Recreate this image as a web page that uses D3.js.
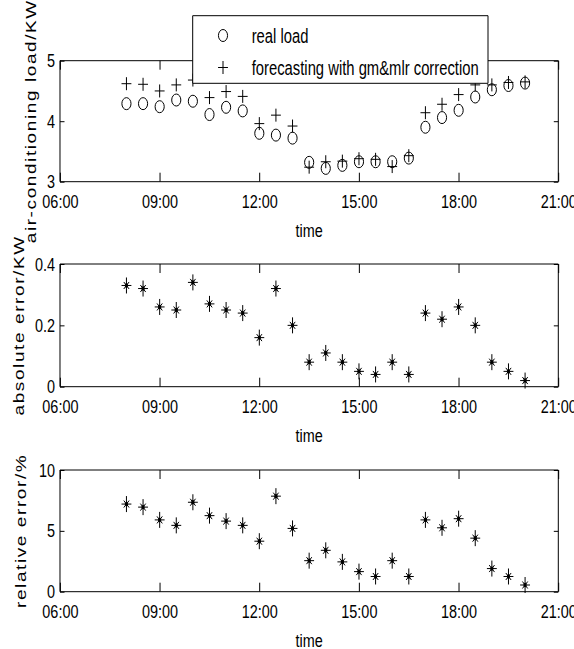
<!DOCTYPE html>
<html>
<head>
<meta charset="utf-8">
<script src="https://cdn.jsdelivr.net/npm/d3@7"></script>
<style>
body { margin: 0; background: #fff; }
svg { display: block; }
</style>
</head>
<body>
<div id="chart"></div>
<script>
var times = ["08:00", "08:30", "09:00", "09:30", "10:00", "10:30", "11:00", "11:30", "12:00",
	"12:30", "13:00", "13:30", "14:00", "14:30", "15:00", "15:30", "16:00", "16:30",
	"17:00", "17:30", "18:00", "18:30", "19:00", "19:30", "20:00"];
var realLoad = [4.29, 4.29, 4.24, 4.35, 4.33, 4.11, 4.23, 4.17, 3.80, 3.77, 3.72, 3.32, 3.22,
	3.27, 3.33, 3.33, 3.33, 3.39, 3.90, 4.06, 4.18, 4.40, 4.52, 4.59, 4.63];
var forecastLoad = [4.62, 4.61, 4.50, 4.60, 4.68, 4.39, 4.49, 4.41, 3.96, 4.10, 3.92, 3.24, 3.33,
	3.34, 3.38, 3.37, 3.25, 3.43, 4.14, 4.28, 4.44, 4.60, 4.60, 4.64, 4.65];
var absError = [0.33, 0.32, 0.26, 0.25, 0.34, 0.27, 0.25, 0.24, 0.16, 0.32, 0.20, 0.08, 0.11,
	0.08, 0.05, 0.04, 0.08, 0.04, 0.24, 0.22, 0.26, 0.20, 0.08, 0.05, 0.02];
var relError = [7.2, 6.95, 5.9, 5.45, 7.35, 6.25, 5.8, 5.45, 4.15, 7.85, 5.2, 2.55, 3.4,
	2.45, 1.65, 1.25, 2.55, 1.25, 5.9, 5.25, 6.0, 4.4, 1.9, 1.25, 0.55];
var xTicks = ["06:00", "09:00", "12:00", "15:00", "18:00", "21:00"];
var legendNames = ["real load", "forecasting with gm&mlr correction"];

var width = 574, height = 649;
// the original figure is squeezed sideways, so draw wide and scale x down
var sx = 0.76;
var left = 60, right = 558.3;
var font = "'Liberation Sans', Arial, sans-serif";

function hours(s) {
	var p = s.split(":");
	return +p[0] + (+p[1]) / 60;
}
var xTickValues = xTicks.map(hours);

var svg = d3.select("#chart").append("svg")
	.attr("width", width)
	.attr("height", height)
	.style("font-family", font);

var g = svg.append("g").attr("transform", `scale(${sx},1)`);

var x = d3.scaleLinear().domain([6, 21]).range([left / sx, right / sx]);

function styleAxis(a) {
	a.attr("font-size", null).attr("font-family", null);
	a.select(".domain").remove();
	a.selectAll("line").attr("stroke", "#000").attr("vector-effect", "non-scaling-stroke");
	a.selectAll("text").attr("font-size", 19).attr("fill", "#000");
}

function panel(top, bottom, yDomain, yTicks, yFormat, label, labelX) {
	var y = d3.scaleLinear().domain(yDomain).range([bottom, top]);
	var p = g.append("g");

	p.append("g")
		.attr("transform", `translate(0,${bottom})`)
		.call(d3.axisBottom(x).tickValues(xTickValues)
			.tickFormat(d => xTicks[xTickValues.indexOf(d)])
			.tickSizeInner(-9).tickSizeOuter(0).tickPadding(12.5))
		.call(styleAxis);

	p.append("g")
		.attr("transform", `translate(0,${top})`)
		.call(d3.axisTop(x).tickValues(xTickValues).tickFormat("")
			.tickSizeInner(-9).tickSizeOuter(0))
		.call(styleAxis);

	p.append("g")
		.attr("transform", `translate(${x(6)},0)`)
		.call(d3.axisLeft(y).tickValues(yTicks).tickFormat(yFormat)
			.tickSizeInner(-4.5 / sx).tickSizeOuter(0).tickPadding(5 / sx))
		.call(styleAxis);

	p.append("g")
		.attr("transform", `translate(${x(21)},0)`)
		.call(d3.axisRight(y).tickValues(yTicks).tickFormat("")
			.tickSizeInner(-4.5 / sx).tickSizeOuter(0))
		.call(styleAxis);

	p.append("rect")
		.attr("x", x(6))
		.attr("y", top)
		.attr("width", x(21) - x(6))
		.attr("height", bottom - top)
		.attr("fill", "none")
		.attr("stroke", "#000")
		.attr("vector-effect", "non-scaling-stroke");

	p.append("text")
		.attr("x", (x(6) + x(21)) / 2)
		.attr("y", bottom + 55)
		.attr("text-anchor", "middle")
		.attr("font-size", 19)
		.text("time");

	p.append("text")
		.attr("transform", `translate(${labelX / sx},${(top + bottom) / 2}) rotate(-90)`)
		.attr("text-anchor", "middle")
		.attr("font-size", 19)
		.attr("letter-spacing", 1.6)
		.text(label);

	return y;
}

var plusPath = "M-6.5,0H6.5M0,-6.5V6.5";
// matlab '*': long plus with a small x through the middle
var starPath = "M-6.5,0H6.5M0,-8V8M-3.5,-3.5L3.5,3.5M-3.5,3.5L3.5,-3.5";

function marks(y, values, type) {
	var sel = g.append("g").selectAll("g")
		.data(values)
		.join("g")
		.attr("transform", (d, i) => `translate(${x(hours(times[i]))},${y(d)})`);
	drawMarker(sel, type);
}

function drawMarker(sel, type) {
	if (type === "circle") {
		sel.append("circle").attr("r", 6)
			.attr("fill", "none").attr("stroke", "#000")
			.attr("vector-effect", "non-scaling-stroke");
	} else if (type === "plus") {
		sel.append("path").attr("d", plusPath)
			.attr("fill", "none").attr("stroke", "#000")
			.attr("vector-effect", "non-scaling-stroke");
	} else {
		sel.append("path").attr("d", starPath)
			.attr("fill", "none").attr("stroke", "#000")
			.attr("vector-effect", "non-scaling-stroke");
		sel.append("circle").attr("r", 2.2).attr("fill", "#000");
	}
}

// top: load
var y1 = panel(60.7, 181.7, [3, 5], [3, 4, 5], d3.format("d"), "air-conditioning load/KW", 35.5);
marks(y1, realLoad, "circle");
marks(y1, forecastLoad, "plus");

// middle: absolute error
var y2 = panel(264, 386.7, [0, 0.4], [0, 0.2, 0.4], d => d === 0 ? "0" : d3.format(".1f")(d), "absolute error/KW", 23.5);
marks(y2, absError, "star");

// bottom: relative error
var y3 = panel(470, 591.7, [0, 10], [0, 5, 10], d3.format("d"), "relative error/%", 25.5);
marks(y3, relError, "star");

// legend
var legend = g.append("g");
legend.append("rect")
	.attr("x", 192.7 / sx)
	.attr("y", 15.7)
	.attr("width", (488 - 192.7) / sx)
	.attr("height", 83.3 - 15.7)
	.attr("fill", "#fff")
	.attr("stroke", "#000")
	.attr("vector-effect", "non-scaling-stroke");

var rows = legend.selectAll("g.row")
	.data(legendNames)
	.join("g")
	.attr("class", "row")
	.attr("transform", (d, i) => `translate(${223 / sx},${35.5 + i * 32})`);

rows.each(function(d, i) {
	drawMarker(d3.select(this), i === 0 ? "circle" : "plus");
});

rows.append("text")
	.attr("x", (251.7 - 223) / sx)
	.attr("y", 7)
	.attr("font-size", 19.5)
	.text(d => d);
</script>
</body>
</html>
